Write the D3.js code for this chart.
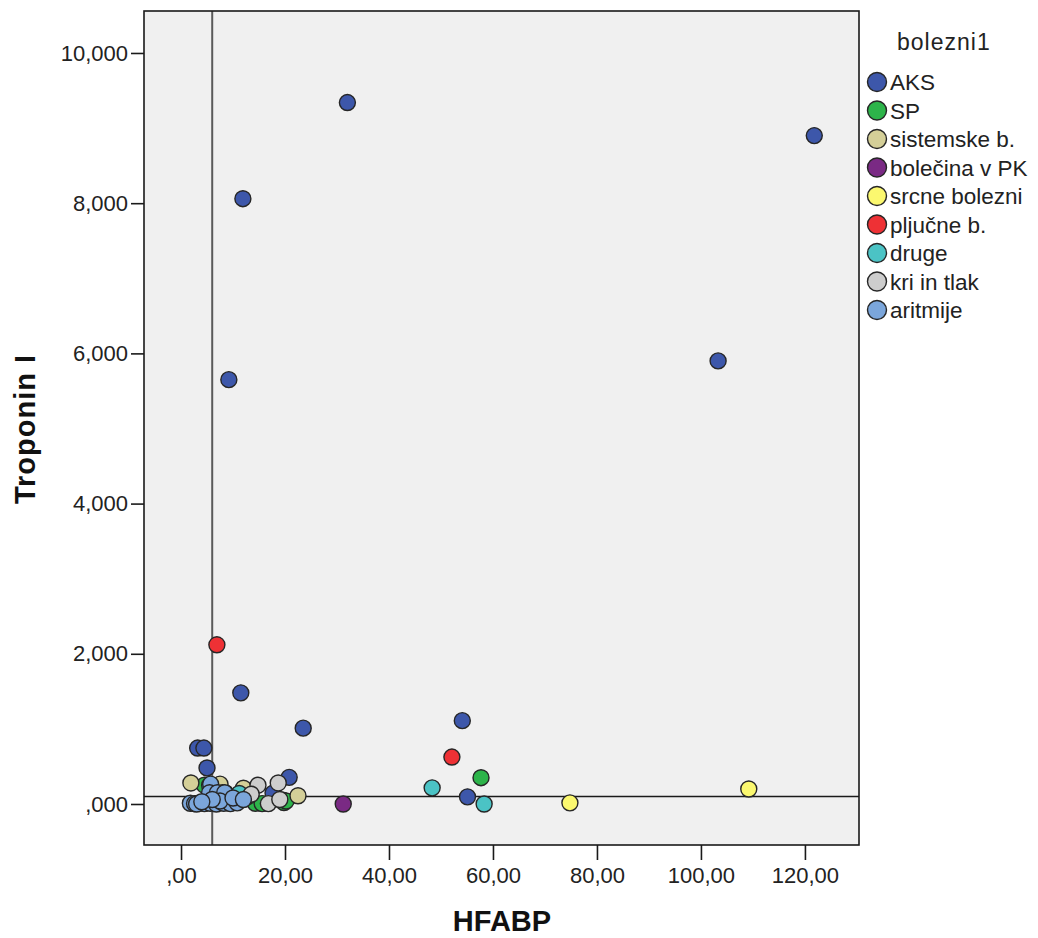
<!DOCTYPE html>
<html lang="en">
<head>
    <meta charset="UTF-8">
    <title>HFABP vs Troponin I</title>
    <style>
        body{
            margin:0;
            background:#fff;
        }
        text{
            font-family:"Liberation Sans", Arial, sans-serif;
        }
    </style>
    <script src="https://cdn.jsdelivr.net/npm/d3@7/dist/d3.min.js"></script>
</head>
<body>
<div id ='container'>
</div>
</body>
<script>
    // groups (legend order) and their colours
    var categories = ['AKS', 'SP', 'sistemske b.', 'bolečina v PK', 'srcne bolezni',
        'pljučne b.', 'druge', 'kri in tlak', 'aritmije'];
    var colors = ['#3d57aa', '#2db44a', '#d4cf98', '#7a2a84', '#fbf86f',
        '#ee3135', '#4bc3c5', '#cdcdcd', '#7ba6db'];

    // [HFABP, Troponin I] per group
    var aks = [[32.0, 9340], [121.8, 8900], [11.9, 8060], [9.2, 5650], [103.3, 5900],
        [11.5, 1480], [23.5, 1010], [54.1, 1110], [3.2, 745], [4.4, 745], [5.0, 480],
        [20.8, 355], [55.1, 95], [17.7, 145]];
    var sp = [[57.7, 350], [19.6, 50], [14.3, 10], [15.6, 5], [19.8, 20], [8.5, 150],
        [11.0, 100], [4.5, 250], [12.8, 100], [20.2, 40]];
    var sistemske = [[1.9, 280], [7.5, 265], [22.5, 110], [12.0, 210], [8.0, 150]];
    var bolecina = [[31.2, 0]];
    var srcne = [[74.8, 15], [109.2, 200]];
    var pljucne = [[6.9, 2120], [52.1, 625]];
    var druge = [[48.3, 215], [58.3, 0], [5.5, 250], [11.2, 140], [6.5, 80]];
    var kri = [[14.8, 250], [18.7, 280], [16.8, 5], [13.5, 130], [9.5, 20], [19.0, 60]];
    var aritmije = [[1.8, 10], [2.6, 5], [3.3, 10], [4.5, 5], [5.6, 10], [6.8, 0], [8.2, 10],
        [9.5, 5], [10.8, 15], [5.7, 265], [5.5, 150], [7.0, 150], [8.4, 150], [3.0, 0],
        [7.5, 40], [10.0, 80], [6.0, 60], [4.0, 30], [12.0, 60]];
    var series = [aks, sp, sistemske, bolecina, srcne, pljucne, druge, kri, aritmije];

    var xTicks = [0, 20, 40, 60, 80, 100, 120];
    var yTicks = [0, 2000, 4000, 6000, 8000, 10000];
    var refX = 6.0, refY = 100;

    var w = 1038, h = 938,
        pL = 144, pR = 859, pT = 11, pB = 845;

    var xScale = d3.scaleLinear().domain([-7.12, 130.4]).range([pL, pR]),
        yScale = d3.scaleLinear().domain([-546, 10559]).range([pB, pT]);

    var fmtX = function (d) { return d === 0 ? ',00' : d3.format(',')(d) + ',00'; },
        fmtY = function (d) { return d === 0 ? ',000' : d3.format(',')(d); };

    var svg = d3.select('#container').append('svg').attr('width', w).attr('height', h);

    svg.append('rect').attr('x', pL).attr('y', pT)
        .attr('width', pR - pL).attr('height', pB - pT)
        .attr('fill', '#f0f0f0');

    // reference lines
    svg.append('line').attr('x1', xScale(refX)).attr('x2', xScale(refX))
        .attr('y1', pT).attr('y2', pB)
        .attr('stroke', '#5a5a5a').attr('stroke-width', 2);
    svg.append('line').attr('x1', pL).attr('x2', pR)
        .attr('y1', yScale(refY)).attr('y2', yScale(refY))
        .attr('stroke', '#1a1a1a').attr('stroke-width', 1.6);

    // points
    series.forEach(function (s, i) {
        svg.append('g').selectAll('circle').data(s).enter().append('circle')
            .attr('cx', function (d) { return xScale(d[0]); })
            .attr('cy', function (d) { return yScale(d[1]); })
            .attr('r', 8)
            .attr('fill', colors[i])
            .attr('stroke', '#262626')
            .attr('stroke-width', 1.4);
    });

    svg.append('rect').attr('x', pL).attr('y', pT)
        .attr('width', pR - pL).attr('height', pB - pT)
        .attr('fill', 'none').attr('stroke', '#1a1a1a').attr('stroke-width', 1.6);

    // axes
    var xAxis = d3.axisBottom(xScale).tickValues(xTicks).tickFormat(fmtX).tickSize(15).tickSizeOuter(0),
        yAxis = d3.axisLeft(yScale).tickValues(yTicks).tickFormat(fmtY).tickSize(13).tickSizeOuter(0);

    var gx = svg.append('g').attr('transform', 'translate(0,' + pB + ')').call(xAxis);
    var gy = svg.append('g').attr('transform', 'translate(' + pL + ',0)').call(yAxis);
    [gx, gy].forEach(function (g) {
        g.select('.domain').remove();
        g.selectAll('.tick line').attr('stroke', '#1a1a1a').attr('stroke-width', 1.6);
        g.selectAll('.tick text').attr('font-size', '22px').attr('fill', '#222')
            .style('font-family', '"Liberation Sans", Arial, sans-serif');
    });
    gx.selectAll('.tick text').attr('y', 38).attr('dy', 0);
    gy.selectAll('.tick text').attr('x', -16);

    svg.append('text').text('HFABP')
        .attr('x', 502).attr('y', 931)
        .attr('text-anchor', 'middle').attr('font-size', '29px').attr('font-weight', 'bold').attr('fill', '#111');
    svg.append('text').text('Troponin I')
        .attr('transform', 'translate(35,429) rotate(-90)')
        .attr('text-anchor', 'middle').attr('font-size', '29px').attr('font-weight', 'bold')
        .attr('letter-spacing', '1px').attr('fill', '#111');

    // legend
    svg.append('text').text('bolezni1').attr('x', 897).attr('y', 50)
        .attr('font-size', '23px').attr('letter-spacing', '1px').attr('fill', '#222');
    var lg = svg.append('g').selectAll('g').data(categories).enter().append('g')
        .attr('transform', function (d, i) { return 'translate(877,' + (82 + i * 28.5) + ')'; });
    lg.append('circle').attr('r', 9.5)
        .attr('fill', function (d, i) { return colors[i]; })
        .attr('stroke', '#262626').attr('stroke-width', 1.4);
    lg.append('text').text(function (d) { return d; })
        .attr('x', 13).attr('y', 8).attr('font-size', '22.5px').attr('fill', '#222');
</script>
</html>
